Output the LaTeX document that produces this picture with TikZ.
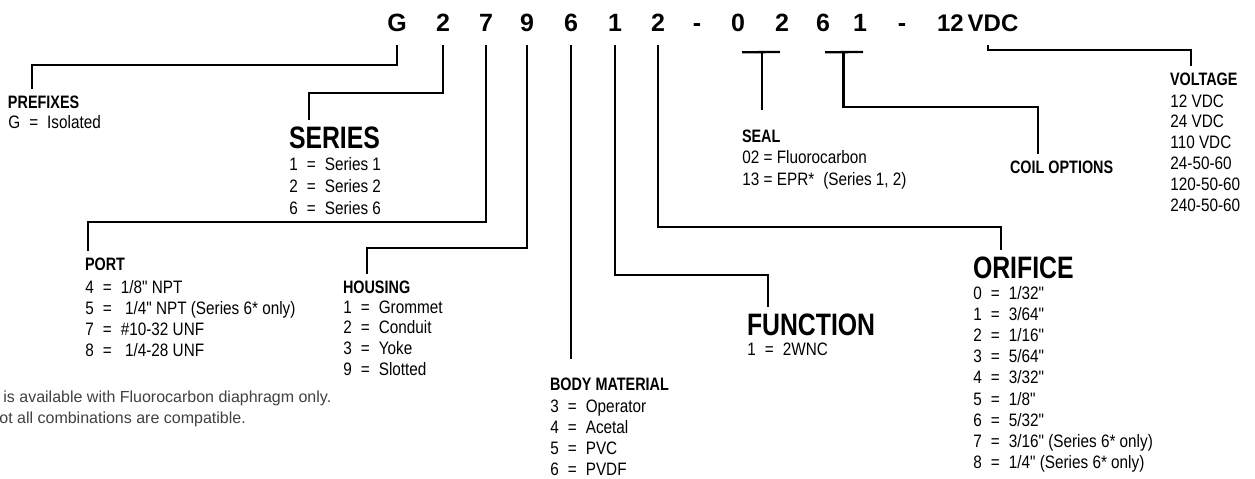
\documentclass[tikz,border=0pt]{standalone}
\usepackage{fontspec}
\setmainfont{Liberation Sans}
\newfontfamily\codefont{Liberation Sans Bold}
\newfontfamily\headfont{Liberation Sans Bold}[FakeStretch=0.8]
\newfontfamily\listfont{Liberation Sans}[FakeStretch=0.85]
\usetikzlibrary{positioning,calc}
\newcommand{\eqsp}{\enspace=\enspace}
\tikzset{
  lead/.style      ={line width=1.15pt},
  codechar/.style  ={font=\codefont\fontsize{12.5pt}{14pt}\selectfont, inner sep=0pt, outer xsep=0pt, outer ysep=7pt, anchor=base},
  bighead/.style   ={font=\headfont\fontsize{15.5pt}{17pt}\selectfont, inner sep=0pt, outer xsep=0pt, outer ysep=3pt,
                     text height=11pt, text depth=0pt, anchor=base west},
  smallhead/.style ={font=\headfont\fontsize{9pt}{10.5pt}\selectfont, inner sep=0pt, outer xsep=0pt, outer ysep=3pt,
                     text height=6.5pt, text depth=0pt, anchor=base west},
  entry/.style     ={font=\listfont\fontsize{9pt}{10.5pt}\selectfont, inner sep=0pt, anchor=base west},
  note/.style      ={font=\fontsize{8pt}{9.5pt}\selectfont, text=black!75, inner sep=0pt, anchor=base west},
}
\begin{document}
\begin{tikzpicture}[x=0.5pt, y=-0.5pt]
\useasboundingbox (0,0) rectangle (1255,478);
% ---- part number
\node[codechar] (pG)  at (397,31) {G};
\node[codechar] (pS)  at (443,31) {2};
\node[codechar] (pP)  at (486,31) {7};
\node[codechar] (pH)  at (527,31) {9};
\node[codechar] (pB)  at (571,31) {6};
\node[codechar] (pF)  at (615,31) {1};
\node[codechar] (pO)  at (658,31) {2};
\node[codechar] (hy1) at (697,31) {-};
\node[codechar] (pE1) at (738,31) {0};
\node[codechar] (pE2) at (782,31) {2};
\node[codechar] (pC1) at (823,31) {6};
\node[codechar] (pC2) at (860,31) {1};
\node[codechar] (hy2) at (902,31) {-};
\node[codechar, anchor=base west, font=\codefont\fontsize{12pt}{14pt}\selectfont] (pV) at (937,31) {12\,VDC};

% ---- prefixes
\node[smallhead] (pfx) at (8,108) {PREFIXES};
\node[entry] (pfx-0) at (8,128) {G\eqsp Isolated};

% ---- series
\node[bighead] (ser) at (289,148) {SERIES};
\foreach \t [count=\i from 0] in {{1\eqsp Series 1},{2\eqsp Series 2},{6\eqsp Series 6}}
  \node[entry] (ser-\i) at (289,170+22*\i) {\t};

% ---- port
\node[smallhead] (port) at (85,270) {PORT};
\foreach \t [count=\i from 0] in {{4\eqsp 1/8" NPT},{5\eqsp\ 1/4" NPT (Series 6* only)},{7\eqsp \#10-32 UNF},{8\eqsp\ 1/4-28 UNF}}
  \node[entry] (port-\i) at (85,293+21*\i) {\t};

% ---- housing
\node[smallhead] (hsg) at (343,293) {HOUSING};
\foreach \t [count=\i from 0] in {{1\eqsp Grommet},{2\eqsp Conduit},{3\eqsp Yoke},{9\eqsp Slotted}}
  \node[entry] (hsg-\i) at (343,313+20.7*\i) {\t};

% ---- body material
\node[smallhead] (bod) at (550,390) {BODY MATERIAL};
\foreach \t [count=\i from 0] in {{3\eqsp Operator},{4\eqsp Acetal},{5\eqsp PVC},{6\eqsp PVDF}}
  \node[entry] (bod-\i) at (550,412+21*\i) {\t};

% ---- function
\node[bighead] (fun) at (747,335) {FUNCTION};
\node[entry] (fun-0) at (747,355) {1\eqsp 2WNC};

% ---- orifice
\node[bighead] (ori) at (973,278) {ORIFICE};
\foreach \t [count=\i from 0] in {{0\eqsp 1/32"},{1\eqsp 3/64"},{2\eqsp 1/16"},{3\eqsp 5/64"},{4\eqsp 3/32"},
    {5\eqsp 1/8"},{6\eqsp 5/32"},{7\eqsp 3/16" (Series 6* only)},{8\eqsp 1/4" (Series 6* only)}}
  \node[entry] (ori-\i) at (973,299+21.2*\i) {\t};

% ---- seal
\node[smallhead] (seal) at (742,142) {SEAL};
\node[entry] (seal-0) at (742,163) {02 = Fluorocarbon};
\node[entry] (seal-1) at (742,185) {13 = EPR*\enspace (Series 1, 2)};

% ---- coil options
\node[smallhead] (coil) at (1010,173) {COIL OPTIONS};

% ---- voltage
\node[smallhead] (vlt) at (1170,85) {VOLTAGE};
\foreach \t [count=\i from 0] in {12 VDC,24 VDC,110 VDC,24-50-60,120-50-60,240-50-60}
  \node[entry] (vlt-\i) at (1170,107+20.8*\i) {\t};

% ---- notes
\node[note] (note1) at (3,402) {is available with Fluorocarbon diaphragm only.};
\node[note] (note2) at (-1,423) {ot all combinations are compatible.};

% ---- leaders
\draw[lead] (pG.south) -- ++(0,20) -| ([xshift=12pt]pfx.north west);
\draw[lead] (pS.south) -- ++(0,48) -| ([xshift=10pt]ser.north west);
\draw[lead] (pP.south) -- ++(0,177) -| ([xshift=1.5pt]port.north west);
\draw[lead] (pH.south) -- ++(0,203) -| ([xshift=12pt]hsg.north west);
\draw[lead] (pB.south) -- ([yshift=6pt]pB.south |- bod.north);
\draw[lead] (pF.south) -- ++(0,230) -| ([xshift=10.5pt]fun.north west);
\draw[lead] (pO.south) -- ++(0,182) -| ([xshift=14pt]ori.north west);

\draw[lead] ([shift={(4,7)}]pE1.south) -- ([shift={(-2,7)}]pE2.south);
\coordinate (sealbar) at ($(pE1.south)!.5!(pE2.south)+(2,7)$);
\draw[lead] (sealbar) -- ([yshift=6.5pt]sealbar |- seal.north);

\draw[lead] ([shift={(2,7)}]pC1.south) -- ([shift={(3,7)}]pC2.south);
\coordinate (coilbar) at ($(pC1.south)!.5!(pC2.south)+(2,7)$);
\draw[lead] (coilbar) -- ++(0,55) -| ([xshift=14pt]coil.north west);

\draw[lead] ([xshift=25.5pt]pV.south west) -- ++(0,5) -| ([xshift=10.5pt]vlt.north west);
\end{tikzpicture}
\end{document}
